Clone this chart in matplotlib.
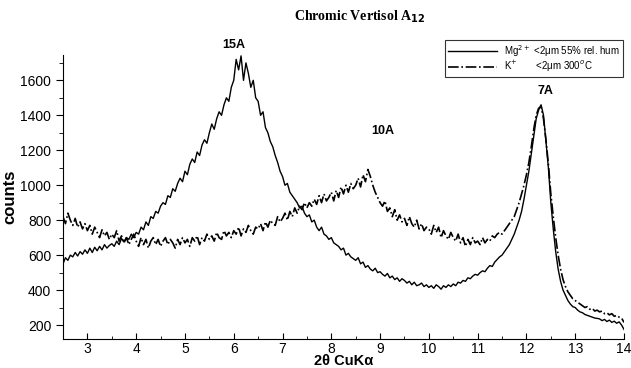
import numpy as np
import matplotlib
matplotlib.use("Agg")
import matplotlib.pyplot as plt
from matplotlib.ticker import MultipleLocator

# 2-theta grid, 0.05 deg step from 2.5 to 14.0
two_theta = np.round(np.arange(2.5, 14.0001, 0.05), 2)

# Mg2+ <2um 55% rel. hum (solid)
mg_counts = [
    550, 585, 570, 600, 590, 615, 595, 620, 605, 630,
    610, 640, 615, 645, 625, 650, 630, 660, 640, 655,
    665, 650, 680, 660, 695, 675, 700, 690, 720, 700,
    730, 720, 760, 745, 790, 770, 820, 810, 850, 840,
    880, 900, 890, 940, 930, 980, 965, 1010, 1040, 1020,
    1080, 1060, 1120, 1150, 1130, 1190, 1170, 1230, 1260, 1240,
    1300, 1350, 1320, 1380, 1420, 1400, 1460, 1500, 1480, 1560,
    1600, 1720, 1660, 1740, 1600, 1700, 1640, 1560, 1600, 1500,
    1480, 1400, 1420, 1330, 1300, 1250, 1220, 1170, 1130, 1080,
    1050, 1000, 1010, 960, 940, 920, 900, 870, 880, 840,
    820, 830, 790, 800, 760, 740, 760, 720, 710, 690,
    700, 670, 660, 650, 630, 640, 600, 610, 590, 580,
    570, 585, 550, 560, 530, 540, 520, 510, 525, 500,
    505, 490, 480, 495, 470, 480, 460, 470, 450, 465,
    455, 440, 450, 430, 445, 425, 430, 440, 420, 430,
    415, 425, 410, 430, 420, 405, 425, 415, 430, 420,
    435, 425, 445, 440, 455, 450, 470, 465, 480, 490,
    485, 500, 510, 505, 525, 540, 535, 560, 575, 590,
    600, 620, 640, 660, 690, 720, 760, 800, 850, 920,
    1000, 1080, 1180, 1280, 1380, 1430, 1460, 1400, 1250, 1100,
    900, 750, 620, 520, 450, 400, 370, 340, 320, 305,
    300, 285, 275, 270, 260, 255, 250, 245, 240, 238,
    235, 225, 232, 220, 228, 215, 222, 210, 218, 200,
    175,
]

# K+ <2um 300C (dash-dot)
k_counts = [
    820, 780, 840, 800, 770, 810, 760, 790, 750, 780,
    740, 770, 720, 760, 730, 700, 745, 710, 730, 690,
    720, 700, 740, 680, 710, 670, 700, 660, 690, 720,
    680, 650, 700, 660, 690, 640, 680, 700, 660, 690,
    650, 680, 700, 660, 690, 670, 640, 690, 660, 700,
    670, 690, 650, 700, 680, 710, 660, 700, 680, 720,
    690, 710, 680, 730, 700, 690, 740, 710, 730, 700,
    740, 720, 760, 710, 750, 730, 770, 740, 720, 760,
    750, 780, 740, 790, 760, 800, 780, 770, 820, 790,
    810, 840, 800, 850, 820, 870, 840, 880, 860, 900,
    870, 900, 880, 920, 890, 940, 900, 950, 910, 930,
    960, 910, 970, 930, 990, 950, 1000, 960, 1010, 980,
    1000, 1040, 990, 1060, 1020, 1090, 1050, 1000, 960, 930,
    900, 880, 910, 850, 870, 820, 860, 800, 830, 790,
    810, 770, 820, 780, 760, 800, 750, 780, 740, 760,
    750, 720, 770, 730, 760, 700, 740, 710, 690, 730,
    700, 680, 720, 670, 700, 650, 690, 660, 700, 670,
    680, 660, 700, 670, 690, 680, 710, 700, 720, 730,
    720, 740, 760, 780, 800, 820, 860, 900, 950, 1000,
    1060, 1130, 1220, 1320, 1400, 1440, 1450, 1380, 1260, 1120,
    950, 820, 700, 600, 520, 460, 420, 390, 370, 350,
    340, 330, 320, 310, 300, 305, 290, 295, 280, 285,
    275, 280, 265, 270, 258, 265, 250, 255, 245, 240,
    215,
]

peak_labels = ["15A", "10A", "7A"]
peak_x = [6.0, 9.05, 12.38]
peak_y = [1800, 1310, 1540]

plt.rcParams['font.family'] = ['Liberation Sans', 'DejaVu Sans']

fig = plt.figure(figsize=(6.31, 3.68), dpi=100)
ax = fig.add_axes([63 / 631, 1 - 339 / 368, (624 - 63) / 631, (339 - 55) / 368])

ax.plot(two_theta, mg_counts, color="black", lw=1.0, ls="-",
        label="Mg$^{2+}$ <2\u03bcm 55% rel. hum")
ax.plot(two_theta, k_counts, color="black", lw=1.2, ls="-.",
        label="K$^{+}$       <2\u03bcm 300$^{o}$C")

ax.set_xlim(2.5, 14)
ax.set_ylim(120, 1745)

ax.xaxis.set_minor_locator(MultipleLocator(0.5))
ax.yaxis.set_minor_locator(MultipleLocator(100))
ax.set_xticks(range(3, 15))
ax.set_yticks(range(200, 1601, 200))

ax.tick_params(axis="x", which="both", direction="in", labelsize=10, pad=2)
ax.tick_params(axis="x", which="major", length=4)
ax.tick_params(axis="x", which="minor", length=2)
ax.tick_params(axis="y", which="both", direction="out", labelsize=10)
ax.tick_params(axis="y", which="major", length=5)
ax.tick_params(axis="y", which="minor", length=3)

for s in ["top", "right"]:
    ax.spines[s].set_visible(False)

for lab, xx, yy in zip(peak_labels, peak_x, peak_y):
    ax.text(xx, yy, lab, ha="center", va="center", fontsize=9,
            fontweight="bold", clip_on=False)

ax.set_ylabel("counts", fontsize=12, fontweight="bold", labelpad=2)
ax.set_xlabel("2\u03b8 CuK\u03b1", fontsize=10.5, fontweight="bold", labelpad=-1)

fig.text(0.57, 1 - 17 / 368, "Chromic Vertisol A$_{\\mathbf{12}}$",
         ha="center", va="center", fontsize=10, fontweight="bold",
         family="Liberation Serif")

leg = fig.legend(loc="upper right", bbox_to_anchor=(628 / 631, 1 - 35 / 368),
                 fontsize=7, frameon=True, fancybox=False, edgecolor="black",
                 handlelength=5, borderpad=0.3, labelspacing=0.05,
                 handletextpad=0.8)
leg.get_frame().set_linewidth(0.8)

fig.savefig("out.png", dpi=100)
